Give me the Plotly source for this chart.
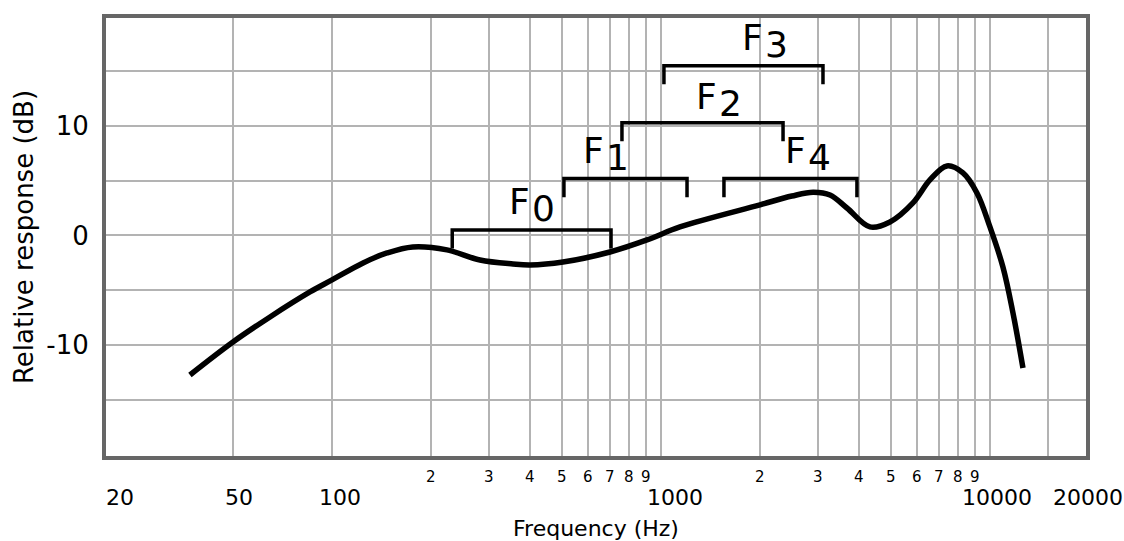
import plotly.graph_objects as go
import math

# ---- data ----
freq_hz = [37.0, 50.0, 64.8, 85.7, 100, 124.3, 147, 176, 223.6, 281.7, 354.9, 400, 503.7,
           699.7, 906.7, 1142, 2000, 2500, 2900, 3264, 3676, 4318, 4966, 5834, 6570,
           7401, 8279, 9131, 10000, 10952, 11750, 12600]
response_db = [-12.74, -9.73, -7.44, -5.16, -4.06, -2.51, -1.6, -1.05, -1.32, -2.24, -2.6,
               -2.69, -2.42, -1.51, -0.41, 0.78, 2.8, 3.6, 3.95, 3.7, 2.51, 0.78, 1.23,
               2.97, 5.07, 6.35, 5.71, 3.88, 0.78, -2.88, -7.08, -12.1]

band_names = ["0", "1", "2", "3", "4"]
band_lo_hz = [232, 507, 761, 1021, 1554]
band_hi_hz = [705, 1200, 2350, 3108, 3942]
band_level_db = [0.5, 5.2, 10.3, 15.5, 5.2]
band_label_hz = [404, 676, 1490, 2056, 2779]
band_label_db = [3.1, 7.8, 12.7, 18.1, 7.8]

grid_x_hz = [50, 100, 200, 300, 400, 500, 600, 700, 800, 900, 1000,
             2000, 3000, 4000, 5000, 6000, 7000, 8000, 9000, 10000, 15000]
minor_labels_hz = [200, 300, 400, 500, 600, 700, 800, 900,
                   2000, 3000, 4000, 5000, 6000, 7000, 8000, 9000]
minor_labels = ["2", "3", "4", "5", "6", "7", "8", "9",
                "2", "3", "4", "5", "6", "7", "8", "9"]
major_labels_hz = [20, 50, 100, 1000, 10000, 20000]
major_labels = ["20", "50", "100", "1000", "10000", "20000"]
major_xshift = [2, 6, 8, 14, 7, -1]
major_anchor = ["left", "center", "center", "center", "center", "center"]

y_grid = [-15, -10, -5, 0, 5, 10, 15]
y_text = ["", "-10", "", "0", "", "10", ""]

X_RANGE = [1.313, 4.292]
FONT = "DejaVu Sans"

fig = go.Figure()

fig.add_trace(go.Scatter(
    x=freq_hz, y=response_db, mode="lines",
    line=dict(color="black", width=5.5, shape="spline", smoothing=1.0),
    showlegend=False, hoverinfo="skip"))

tick_depth = 1.7
for lo, hi, lev in zip(band_lo_hz, band_hi_hz, band_level_db):
    fig.add_trace(go.Scatter(
        x=[lo, lo, hi, hi], y=[lev - tick_depth, lev, lev, lev - tick_depth],
        mode="lines", line=dict(color="black", width=3.5),
        showlegend=False, hoverinfo="skip"))

annotations = []
for name, lx, ly in zip(band_names, band_label_hz, band_label_db):
    annotations.append(dict(x=math.log10(lx), y=ly, xref="x", yref="y", text="F",
                            showarrow=False, xanchor="right", yanchor="middle",
                            font=dict(family=FONT, size=36, color="black"), xshift=1))
    annotations.append(dict(x=math.log10(lx), y=ly, xref="x", yref="y", text=name,
                            showarrow=False, xanchor="left", yanchor="middle",
                            font=dict(family=FONT, size=36, color="black"), yshift=-7, xshift=-1))

def to_paper(v):
    return (math.log10(v) - X_RANGE[0]) / (X_RANGE[1] - X_RANGE[0])

for v, t in zip(minor_labels_hz, minor_labels):
    annotations.append(dict(x=to_paper(v), y=0, xref="paper", yref="paper", text=t,
                            showarrow=False, xanchor="center", yanchor="middle", yshift=-21,
                            font=dict(family=FONT, size=15, color="black")))
for v, t, xs, anc in zip(major_labels_hz, major_labels, major_xshift, major_anchor):
    annotations.append(dict(x=to_paper(v), y=0, xref="paper", yref="paper", text=t,
                            showarrow=False, xanchor=anc, yanchor="middle", yshift=-41,
                            xshift=xs, font=dict(family=FONT, size=22, color="black")))

fig.update_layout(
    width=1124, height=541,
    margin=dict(l=106, r=38, t=18, b=85),
    paper_bgcolor="white", plot_bgcolor="white",
    font=dict(family=FONT, color="black"),
    annotations=annotations,
    hovermode=False,
    xaxis=dict(type="log", range=X_RANGE, tickvals=grid_x_hz,
               showticklabels=False, showgrid=True, gridcolor="#b3b3b3", gridwidth=2,
               showline=True, linecolor="#666666", linewidth=4, mirror=True,
               ticks="", zeroline=False, automargin=False,
               title=dict(text="Frequency (Hz)", font=dict(family=FONT, size=22), standoff=64)),
    yaxis=dict(range=[-20.14, 19.86], tickvals=y_grid, ticktext=y_text,
               showgrid=True, gridcolor="#b3b3b3", gridwidth=2,
               showline=True, linecolor="#666666", linewidth=4, mirror=True,
               ticks="outside", ticklen=8, tickcolor="rgba(0,0,0,0)", zeroline=False,
               automargin=False,
               tickfont=dict(family=FONT, size=26, color="black"),
               title=dict(text="Relative response (dB)", font=dict(family=FONT, size=26), standoff=6)),
)

fig.write_html(
    "out.html",
    config={"displayModeBar": False, "staticPlot": True},
    post_script="document.body.style.margin='0';document.body.style.overflow='hidden';",
)
